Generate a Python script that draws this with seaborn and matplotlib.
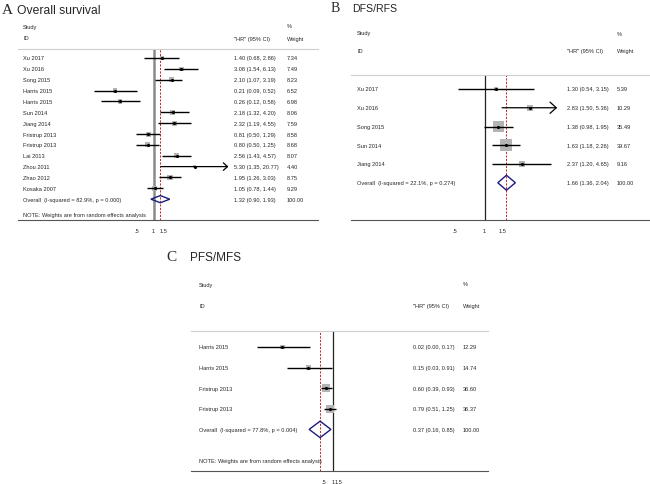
import numpy as np
import pandas as pd
import seaborn as sns
import matplotlib.pyplot as plt
from matplotlib.ticker import NullLocator
from matplotlib.transforms import blended_transform_factory

# ---- data: overall survival ----
os_study = ["Xu 2017", "Xu 2016", "Song 2015", "Harris 2015", "Harris 2015",
            "Sun 2014", "Jiang 2014", "Fristrup 2013", "Fristrup 2013",
            "Lai 2013", "Zhou 2011", "Zhao 2012", "Kosaka 2007"]
os_hr = [1.40, 3.08, 2.10, 0.21, 0.26, 2.18, 2.32, 0.81, 0.80, 2.56, 5.30, 1.95, 1.05]
os_lo = [0.68, 1.54, 1.07, 0.09, 0.12, 1.32, 1.19, 0.50, 0.50, 1.43, 1.35, 1.26, 0.78]
os_hi = [2.86, 6.13, 3.19, 0.52, 0.58, 4.20, 4.55, 1.29, 1.25, 4.57, 20.77, 3.03, 1.44]
os_wt = [7.34, 7.49, 8.23, 6.52, 6.98, 8.06, 7.59, 8.58, 8.68, 8.07, 4.40, 8.75, 9.29]
os_overall = [1.32, 0.90, 1.93]
os_het = "Overall  (I-squared = 82.9%, p = 0.000)"

# ---- data: DFS/RFS ----
dfs_study = ["Xu 2017", "Xu 2016", "Song 2015", "Sun 2014", "Jiang 2014"]
dfs_hr = [1.30, 2.83, 1.38, 1.63, 2.37]
dfs_lo = [0.54, 1.50, 0.98, 1.18, 1.20]
dfs_hi = [3.15, 5.36, 1.95, 2.26, 4.65]
dfs_wt = [5.39, 10.29, 35.49, 39.67, 9.16]
dfs_overall = [1.66, 1.36, 2.04]
dfs_het = "Overall  (I-squared = 22.1%, p = 0.274)"

# ---- data: PFS/MFS ----
pfs_study = ["Harris 2015", "Harris 2015", "Fristrup 2013", "Fristrup 2013"]
pfs_hr = [0.02, 0.15, 0.60, 0.79]
pfs_lo = [0.003, 0.03, 0.39, 0.51]
pfs_hi = [0.17, 0.91, 0.93, 1.25]
pfs_wt = [12.29, 14.74, 36.60, 36.37]
pfs_overall = [0.37, 0.16, 0.85]
pfs_het = "Overall  (I-squared = 77.8%, p = 0.004)"

tick_vals = [0.5, 1, 1.5]
tick_text = [".5", "1", "1.5"]
note = "NOTE: Weights are from random effects analysis"

W, H = 650, 485
FS = 4.1


def fx(px):
    return px / W


def fy(py):
    return 1 - py / H


def forest_panel(fig, study, hr, lo, hi, wt, overall, het, lay):
    left, right, top, bottom = lay["left"], lay["right"], lay["top"], lay["bottom"]
    ax = fig.add_axes([fx(left), fy(bottom), (right - left) / W, (bottom - top) / H])
    k = lay["k"]
    ax.set_xscale("log")
    ax.set_xlim(np.exp(-(lay["null"] - left) / k), np.exp((right - lay["null"]) / k))
    y0, dy = lay["y0"], lay["dy"]
    ax.set_ylim((bottom - y0) / dy, (top - y0) / dy)

    n = len(study)
    rows = np.arange(n)
    df = pd.DataFrame({"hr": hr, "lo": lo, "hi": hi, "wt": wt, "row": rows})

    # reference lines
    ax.axvline(1, color=lay["null_color"], lw=lay["null_lw"], zorder=1)
    ax.axvline(overall[0], color="#c62828", lw=0.7, ls=(0, (2.2, 1.4)), zorder=1)

    # weight boxes
    sns.scatterplot(data=df, x="hr", y="row", size="wt", sizes=(0, lay["box"] * 100),
                    size_norm=(0, 100), marker="s", color="#b4b4b4", linewidth=0,
                    legend=False, ax=ax, zorder=2)
    # confidence intervals
    for r in df.itertuples():
        if r.hi > lay["clip"]:
            ax.annotate("", xy=(r.hi, r.row), xytext=(r.lo, r.row),
                        arrowprops=dict(arrowstyle="->, head_length=0.5, head_width=0.45",
                                        color="black", lw=0.9, shrinkA=0, shrinkB=0,
                                        mutation_scale=lay["arrow"]), zorder=3)
        else:
            ax.hlines(r.row, r.lo, r.hi, color="black", lw=1.0, zorder=3)
    sns.scatterplot(data=df, x="hr", y="row", marker="o", s=5, color="black",
                    linewidth=0, legend=False, ax=ax, zorder=4)

    # pooled estimate diamond
    h = lay["dh"]
    ax.fill([overall[1], overall[0], overall[2], overall[0]], [n, n - h, n, n + h],
            facecolor="none", edgecolor="#1c1c80", lw=1.0, zorder=5)

    ax.set_xlabel("")
    ax.set_ylabel("")
    ax.set_yticks([])
    ax.set_xticks(tick_vals)
    ax.set_xticklabels(tick_text)
    ax.xaxis.set_minor_locator(NullLocator())
    ax.tick_params(axis="x", length=3.5, width=0.6, pad=2, labelsize=FS, color="#333333")
    for s in ["left", "right"]:
        ax.spines[s].set_visible(False)
    ax.spines["top"].set_color("#cfcfcf")
    ax.spines["top"].set_linewidth(0.8)
    ax.spines["bottom"].set_color("#555555")
    ax.spines["bottom"].set_linewidth(0.8)

    # text columns
    tr = blended_transform_factory(fig.transFigure, ax.transData)
    for i in range(n):
        ax.text(fx(lay["id_x"]), i, study[i], transform=tr, fontsize=FS, va="center", clip_on=False)
        ax.text(fx(lay["hr_x"]), i, f"{hr[i]:.2f} ({lo[i]:.2f}, {hi[i]:.2f})",
                transform=tr, fontsize=FS, va="center", clip_on=False)
        ax.text(fx(lay["wt_x"]), i, f"{wt[i]:.2f}", transform=tr, fontsize=FS,
                va="center", clip_on=False)
    ax.text(fx(lay["id_x"]), n, het, transform=tr, fontsize=FS, va="center", clip_on=False)
    ax.text(fx(lay["hr_x"]), n, f"{overall[0]:.2f} ({overall[1]:.2f}, {overall[2]:.2f})",
            transform=tr, fontsize=FS, va="center", clip_on=False)
    ax.text(fx(lay["wt_x"]), n, "100.00", transform=tr, fontsize=FS, va="center", clip_on=False)
    if lay.get("note_row") is not None:
        ax.text(fx(lay["id_x"]), lay["note_row"], note, transform=tr, fontsize=FS,
                va="center", clip_on=False)

    # headers
    hy1, hy2 = lay["head_y"]
    fig.text(fx(lay["id_x"]), fy(hy1), "Study", fontsize=FS, va="center")
    fig.text(fx(lay["id_x"]), fy(hy2), "ID", fontsize=FS, va="center")
    fig.text(fx(lay["hr_x"]), fy(hy2), '"HR" (95% CI)', fontsize=FS, va="center")
    fig.text(fx(lay["wt_x"]), fy(hy1), "%", fontsize=FS, va="center")
    fig.text(fx(lay["wt_x"]), fy(hy2), "Weight", fontsize=FS, va="center")

    # panel title
    lx, tx, ty = lay["title_pos"]
    fig.text(fx(lx), fy(ty), lay["letter"], fontsize=lay["letter_fs"],
             family=["Liberation Serif", "DejaVu Serif"], va="baseline")
    fig.text(fx(tx), fy(ty), lay["title"], fontsize=lay["title_fs"], va="baseline")
    return ax


sns.set_style("white")
plt.rcParams["font.family"] = ["Liberation Sans", "DejaVu Sans"]

fig = plt.figure(figsize=(6.5, 4.85), dpi=100)

lay_a = dict(left=18, right=318, top=50, bottom=221, null=153.5, k=24.7, y0=59, dy=10.86,
             null_color="#8a8a8a", null_lw=1.8, box=1.5, clip=10, arrow=6, dh=0.33,
             id_x=23, hr_x=234, wt_x=287, note_row=14.45, head_y=(27, 39),
             letter="A", title="Overall survival", letter_fs=11, title_fs=8.7,
             title_pos=(2, 17, 14))
lay_b = dict(left=351, right=650, top=76, bottom=221, null=484.5, k=43.3, y0=90, dy=18.75,
             null_color="#222222", null_lw=0.9, box=1.85, clip=5, arrow=9, dh=0.4,
             id_x=357, hr_x=567, wt_x=617, note_row=None, head_y=(34, 52),
             letter="B", title="DFS/RFS", letter_fs=10, title_fs=7.6,
             title_pos=(331, 352, 12))
lay_c = dict(left=191, right=488, top=332, bottom=472, null=333, k=13, y0=348, dy=20.6,
             null_color="#222222", null_lw=0.9, box=0.95, clip=100, arrow=6, dh=0.4,
             id_x=199, hr_x=413, wt_x=463, note_row=5.53, head_y=(285, 307),
             letter="C", title="PFS/MFS", letter_fs=11, title_fs=8.5,
             title_pos=(166, 190, 261))

forest_panel(fig, os_study, os_hr, os_lo, os_hi, os_wt, os_overall, os_het, lay_a)
forest_panel(fig, dfs_study, dfs_hr, dfs_lo, dfs_hi, dfs_wt, dfs_overall, dfs_het, lay_b)
forest_panel(fig, pfs_study, pfs_hr, pfs_lo, pfs_hi, pfs_wt, pfs_overall, pfs_het, lay_c)

fig.savefig("out.png", dpi=100)
plt.close(fig)
